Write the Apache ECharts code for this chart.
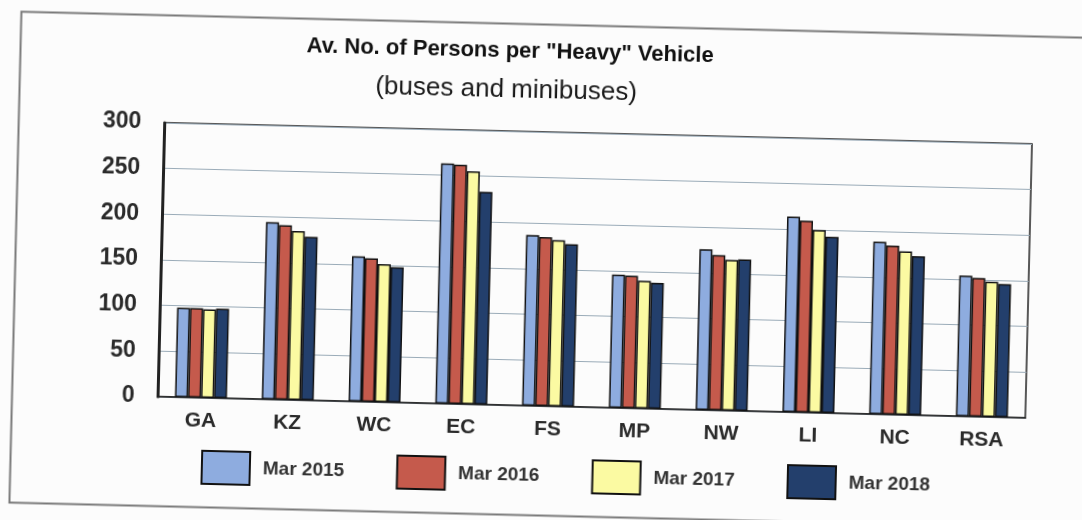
<!DOCTYPE html>
<html style="height: 100%">
   <head>
       <meta charset="utf-8">
   </head>
   <body style="height: 100%; margin: 0; background: #fcfcfc; overflow: hidden">
       <div id="container" style="width: 1082px; height: 520px; transform: rotate(1.4deg); transform-origin: 50% 50%"></div>
       <script type="text/javascript" src="https://cdn.jsdelivr.net/npm/echarts/dist/echarts.min.js"></script>
       <script type="text/javascript">
var dom = document.getElementById("container");
var myChart = echarts.init(dom);
option = null;

var regions = ['GA', 'KZ', 'WC', 'EC', 'FS', 'MP', 'NW', 'LI', 'NC', 'RSA'];
var yTicks = [0, 50, 100, 150, 200, 250, 300];
var mar2015 = [98, 194, 159, 263, 187, 146, 176, 214, 189, 154];
var mar2016 = [98, 191, 157, 262, 185, 145, 170, 210, 185, 152];
var mar2017 = [97, 185, 151, 255, 182, 140, 165, 200, 179, 148];
var mar2018 = [98, 179, 148, 233, 178, 138, 166, 193, 174, 146];

var font = 'Liberation Sans, Arial, sans-serif';

function bar(name, values, color) {
    return {
        name: name,
        type: 'bar',
        data: values,
        barWidth: 13,
        barGap: '0%',
        itemStyle: {color: color, borderColor: '#111', borderWidth: 1.5}
    };
}

option = {
    animation: false,
    textStyle: {fontFamily: font},
    title: [
        {
            text: 'Av. No. of Persons per "Heavy" Vehicle',
            left: 500, top: 36, textAlign: 'center',
            textStyle: {fontSize: 22, fontWeight: 'bold', color: '#111', fontFamily: font}
        },
        {
            text: '(buses and minibuses)',
            left: 497, top: 73, textAlign: 'center',
            textStyle: {fontSize: 26, fontWeight: 'normal', color: '#1a1a1a', fontFamily: font}
        }
    ],
    legend: {
        left: 201,
        top: 453,
        itemWidth: 48,
        itemHeight: 33,
        itemGap: 52,
        icon: 'rect',
        textStyle: {fontSize: 19, fontWeight: 'bold', color: '#333', fontFamily: font, padding: [0, 0, 0, 8]}
    },
    grid: {
        left: 161,
        right: 53,
        top: 132,
        bottom: 114,
        show: true,
        borderColor: '#222',
        borderWidth: 1.5,
        backgroundColor: 'transparent'
    },
    xAxis: {
        type: 'category',
        data: regions,
        axisLine: {lineStyle: {color: '#222', width: 1.5}},
        axisTick: {length: 6, lineStyle: {color: '#5b7fa0', width: 2}},
        axisLabel: {fontSize: 21, fontWeight: 'bold', color: '#2a2a2a', margin: 13, fontFamily: font}
    },
    yAxis: {
        type: 'value',
        min: yTicks[0],
        max: yTicks[yTicks.length - 1],
        interval: 50,
        axisLine: {show: true, lineStyle: {color: '#222', width: 3}},
        axisTick: {show: false},
        splitLine: {lineStyle: {color: '#9aabb8', width: 1}},
        axisLabel: {fontSize: 23, fontWeight: 'bold', color: '#2a2a2a', margin: 23, fontFamily: font}
    },
    graphic: [{
        type: 'rect',
        left: 13,
        top: 22,
        shape: {width: 1070, height: 491},
        style: {fill: 'none', stroke: '#7a7a7a', lineWidth: 2},
        silent: true
    }],
    series: [
        bar('Mar 2015', mar2015, '#8eacdf'),
        bar('Mar 2016', mar2016, '#c55a4c'),
        bar('Mar 2017', mar2017, '#fbfaa2'),
        bar('Mar 2018', mar2018, '#233f6c')
    ]
};

if (option && typeof option === "object") {
    myChart.setOption(option, true);
}
       </script>
   </body>
</html>
